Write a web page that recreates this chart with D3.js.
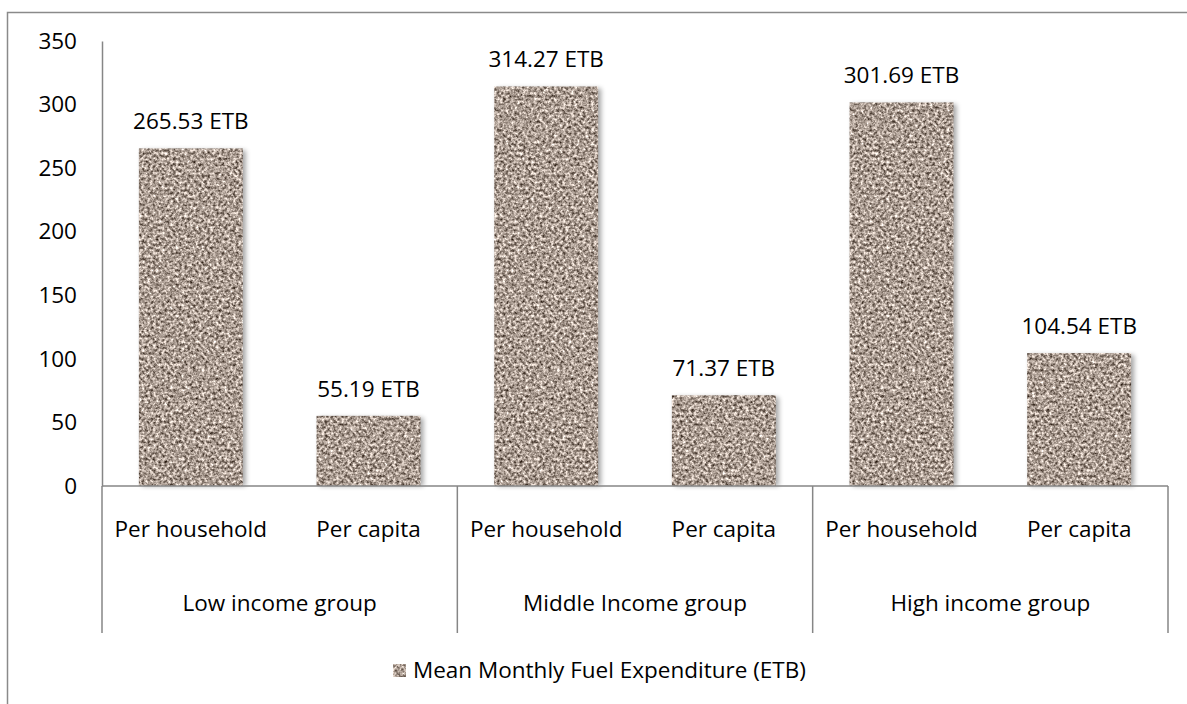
<!DOCTYPE html>
<html>
<head>
<meta charset="utf-8">
<script src="https://cdn.jsdelivr.net/npm/d3@7"></script>
<style>
  body { margin: 0; background: #fff; }
  text { font-family: "Open Sans", sans-serif; fill: #000; }
</style>
</head>
<body>
<div id="chart"></div>
<script>
// Data
var groups = ["Low income group", "Middle Income group", "High income group"];
var categories = ["Per household", "Per capita"];
var values = [
    [265.53, 55.19],
    [314.27, 71.37],
    [301.69, 104.54]
];
var yTicks = [0, 50, 100, 150, 200, 250, 300, 350];
var seriesName = "Mean Monthly Fuel Expenditure (ETB)";

var W = 1187, H = 704;
var margin = { top: 41, right: 19, bottom: 218, left: 102 },
    width = W - margin.left - margin.right,
    height = H - margin.top - margin.bottom;
var fontSize = "22.5px";

var svg = d3.select("#chart")
    .append("svg")
    .attr("width", W)
    .attr("height", H);

// granite-like texture for the bars
var defs = svg.append("defs");
var granite = defs.append("filter")
    .attr("id", "granite")
    .attr("color-interpolation-filters", "sRGB")
    .attr("x", 0).attr("y", 0).attr("width", 1).attr("height", 1);
granite.append("feTurbulence")
    .attr("type", "fractalNoise")
    .attr("baseFrequency", 0.35)
    .attr("numOctaves", 3)
    .attr("seed", 7)
    .attr("result", "noise");
granite.append("feColorMatrix")
    .attr("in", "noise")
    .attr("type", "matrix")
    .attr("values", "1.3 0 0 0 0.02  1.3 0 0 0 -0.035  1.3 0 0 0 -0.075  0 0 0 0 1")
    .attr("result", "col");
granite.append("feComposite")
    .attr("in", "col")
    .attr("in2", "SourceGraphic")
    .attr("operator", "in");

var blur = defs.append("filter").attr("id", "shadow")
    .attr("x", -0.5).attr("y", -0.1).attr("width", 2).attr("height", 1.2);
blur.append("feGaussianBlur").attr("stdDeviation", 2.5);

// outer frame
svg.append("path")
    .attr("d", "M7.5," + H + "V12.5H" + W)
    .attr("fill", "none")
    .attr("stroke", "#8a8a8a")
    .attr("stroke-width", 1.5);

var g = svg.append("g")
    .attr("transform", "translate(" + margin.left + "," + margin.top + ")");

// scales
var x0 = d3.scaleBand()
    .domain(groups)
    .range([0, width]);

var x1 = d3.scaleBand()
    .domain(categories)
    .range([0, x0.bandwidth()])
    .paddingInner(0.415)
    .paddingOuter(0.2075);

var y = d3.scaleLinear()
    .domain([0, 350])
    .range([height, 0]);

// y axis
var yAxis = g.append("g")
    .call(d3.axisLeft(y).tickValues(yTicks).tickSize(0).tickPadding(25));
yAxis.select(".domain").attr("stroke", "#868686").attr("stroke-width", 1.5);
yAxis.selectAll("text")
    .style("font-family", "'Open Sans', sans-serif")
    .style("font-size", fontSize)
    .attr("fill", "#000");

// bars
var rows = [];
groups.forEach(function (gr, i) {
    categories.forEach(function (c, j) {
        rows.push({ group: gr, cat: c, value: values[i][j] });
    });
});

var bar = g.selectAll(".bar")
    .data(rows)
    .enter()
    .append("g")
    .attr("class", "bar")
    .attr("transform", function (d) { return "translate(" + x0(d.group) + ",0)"; });

bar.append("rect")
    .attr("x", function (d) { return x1(d.cat) + 3; })
    .attr("y", function (d) { return y(d.value) + 2; })
    .attr("width", x1.bandwidth())
    .attr("height", function (d) { return height - y(d.value) - 2; })
    .attr("fill", "#000")
    .attr("opacity", 0.35)
    .attr("filter", "url(#shadow)");

bar.append("rect")
    .attr("x", function (d) { return x1(d.cat); })
    .attr("y", function (d) { return y(d.value); })
    .attr("width", x1.bandwidth())
    .attr("height", function (d) { return height - y(d.value); })
    .attr("fill", "#a89a8c")
    .attr("filter", "url(#granite)");

bar.append("text")
    .attr("x", function (d) { return x1(d.cat) + x1.bandwidth() / 2; })
    .attr("y", function (d) { return y(d.value) - 19; })
    .attr("text-anchor", "middle")
    .style("font-size", fontSize)
    .text(function (d) { return d3.format(".2f")(d.value) + " ETB"; });

// category axis
var axisColor = "#868686";
g.append("line")
    .attr("x1", 0).attr("x2", width)
    .attr("y1", height).attr("y2", height)
    .attr("stroke", axisColor).attr("stroke-width", 1.5);

var bounds = groups.map(function (d) { return x0(d); }).concat([width]);
g.selectAll(".divider")
    .data(bounds)
    .enter()
    .append("line")
    .attr("class", "divider")
    .attr("x1", function (d) { return d; }).attr("x2", function (d) { return d; })
    .attr("y1", height).attr("y2", height + 147)
    .attr("stroke", axisColor).attr("stroke-width", 1.5);

g.selectAll(".catlabel")
    .data(rows)
    .enter()
    .append("text")
    .attr("class", "catlabel")
    .attr("x", function (d) { return x0(d.group) + x1(d.cat) + x1.bandwidth() / 2; })
    .attr("y", height + 51)
    .attr("text-anchor", "middle")
    .style("font-size", fontSize)
    .text(function (d) { return d.cat; });

g.selectAll(".grouplabel")
    .data(groups)
    .enter()
    .append("text")
    .attr("class", "grouplabel")
    .attr("x", function (d) { return x0(d) + x0.bandwidth() / 2; })
    .attr("y", height + 125)
    .attr("text-anchor", "middle")
    .style("font-size", fontSize)
    .text(function (d) { return d; });

// legend
var legend = svg.append("g").attr("transform", "translate(393,664)");
legend.append("rect")
    .attr("width", 13).attr("height", 13)
    .attr("fill", "#a89a8c")
    .attr("filter", "url(#granite)");
legend.append("text")
    .attr("x", 20)
    .attr("y", 14)
    .style("font-size", fontSize)
    .text(seriesName);
</script>
</body>
</html>
